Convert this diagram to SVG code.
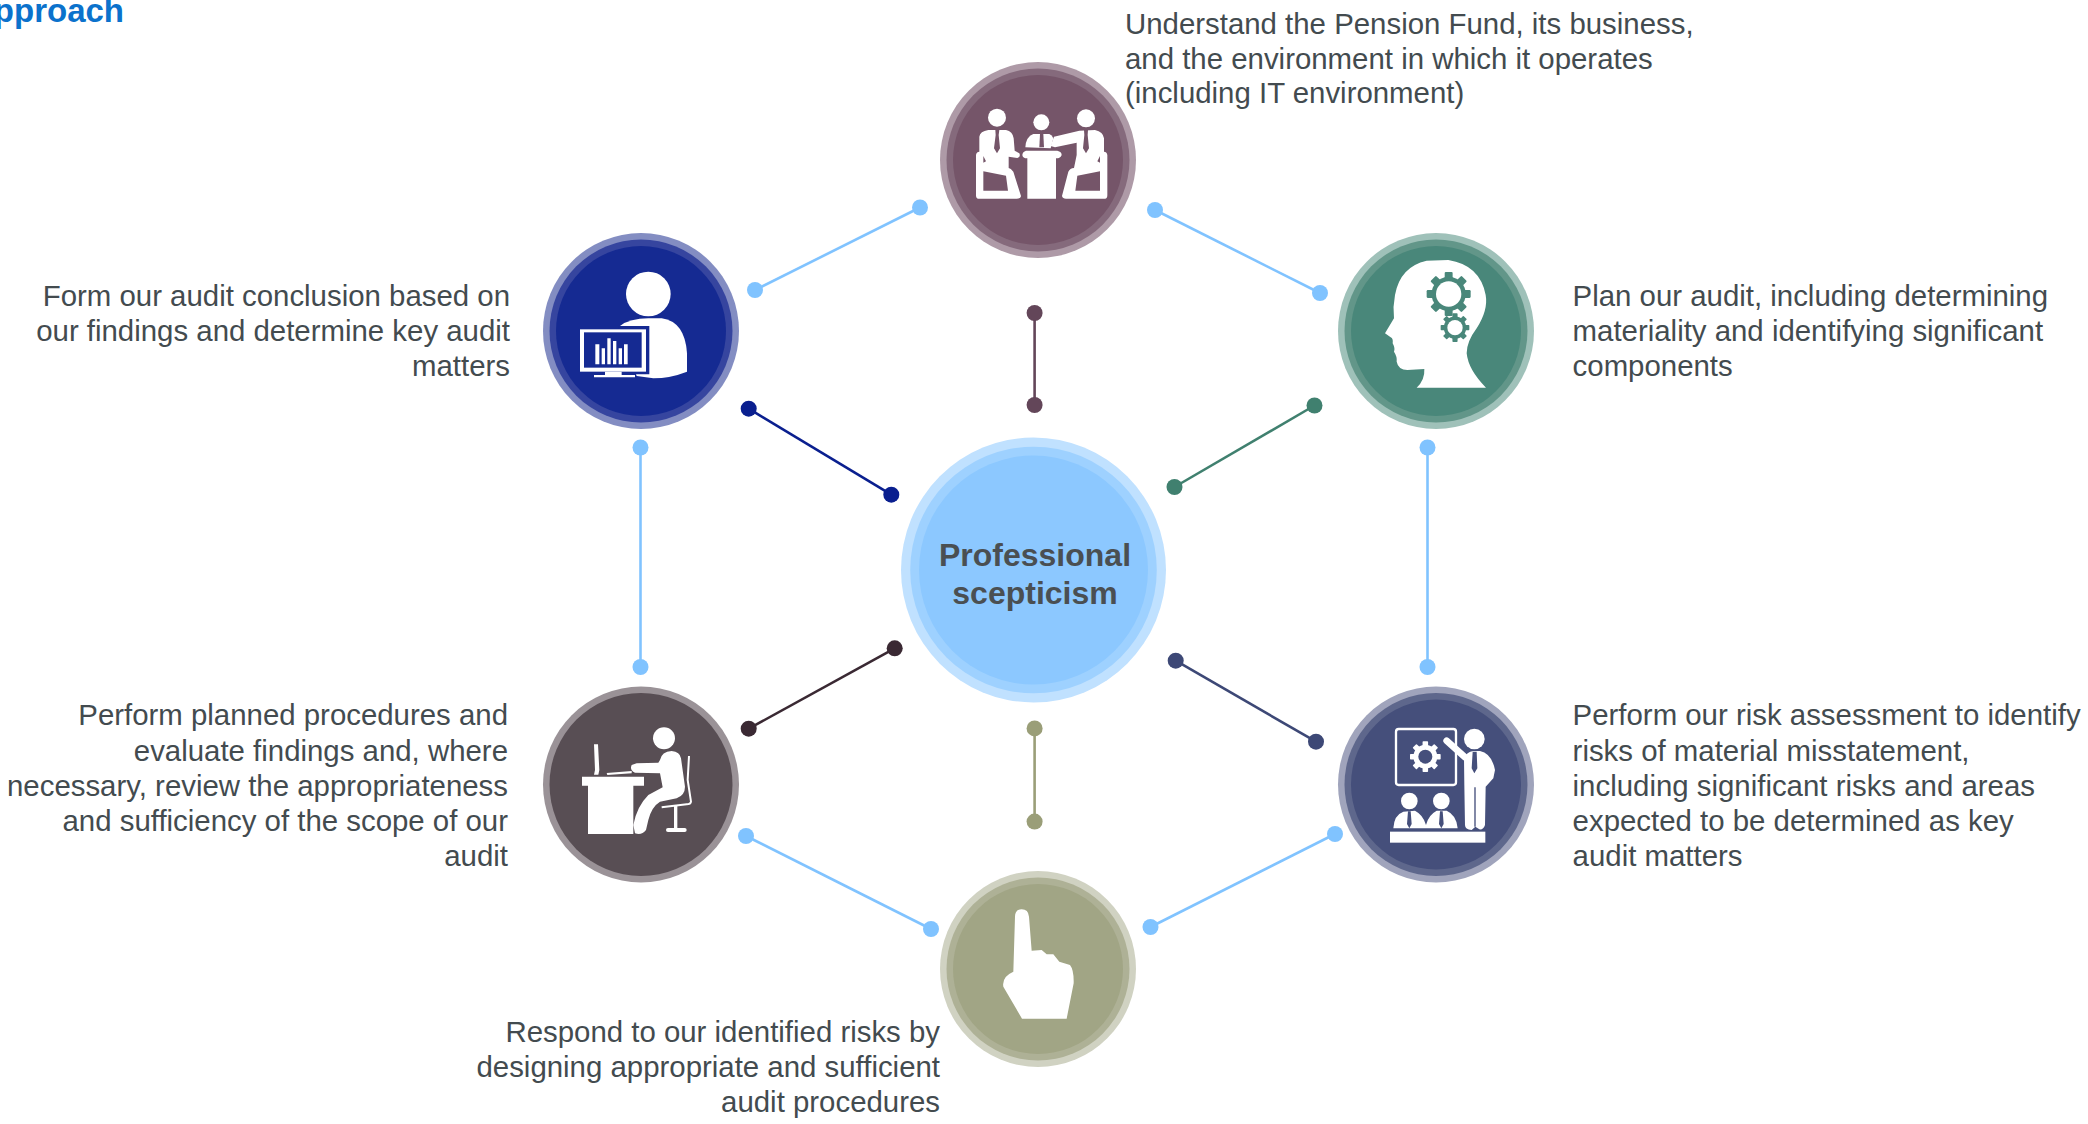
<svg xmlns="http://www.w3.org/2000/svg" xmlns:xlink="http://www.w3.org/1999/xlink" width="2088" height="1124" viewBox="0 0 2088 1124">
<style>
text{font-family:"Liberation Sans",Arial,sans-serif;}
.t{font-size:29.4px;fill:#434b4f;}
.e{text-anchor:end;}
.c{font-size:32px;font-weight:700;fill:#4a4f52;text-anchor:middle;}
.ttl{font-size:33px;font-weight:700;fill:#0b72cc;text-anchor:end;}
.l{stroke-width:2.6;fill:none;}
.w{fill:#fff;}
</style>
<defs>
<g id="gear"><circle r="78"/><rect id="tooth" x="-18" y="-100" width="36" height="32" rx="5"/><use xlink:href="#tooth" href="#tooth" transform="rotate(45)"/><use xlink:href="#tooth" href="#tooth" transform="rotate(90)"/><use xlink:href="#tooth" href="#tooth" transform="rotate(135)"/><use xlink:href="#tooth" href="#tooth" transform="rotate(180)"/><use xlink:href="#tooth" href="#tooth" transform="rotate(225)"/><use xlink:href="#tooth" href="#tooth" transform="rotate(270)"/><use xlink:href="#tooth" href="#tooth" transform="rotate(315)"/></g>
</defs>
<rect width="2088" height="1124" fill="#fff"/>
<text class="ttl" x="124" y="22">pproach</text>

<g id="connectors">
<g stroke="#80c3ff" fill="#80c3ff">
<line class="l" x1="920" y1="207.5" x2="755" y2="290"/><circle cx="920" cy="207.5" r="8" stroke="none"/><circle cx="755" cy="290" r="8" stroke="none"/>
<line class="l" x1="1155" y1="210" x2="1320" y2="293"/><circle cx="1155" cy="210" r="8" stroke="none"/><circle cx="1320" cy="293" r="8" stroke="none"/>
<line class="l" x1="1427.5" y1="447.5" x2="1427.5" y2="667"/><circle cx="1427.5" cy="447.5" r="8" stroke="none"/><circle cx="1427.5" cy="667" r="8" stroke="none"/>
<line class="l" x1="1335" y1="834" x2="1150.5" y2="927"/><circle cx="1335" cy="834" r="8" stroke="none"/><circle cx="1150.5" cy="927" r="8" stroke="none"/>
<line class="l" x1="931" y1="929" x2="746" y2="836"/><circle cx="931" cy="929" r="8" stroke="none"/><circle cx="746" cy="836" r="8" stroke="none"/>
<line class="l" x1="640.5" y1="667" x2="640.5" y2="447.5"/><circle cx="640.5" cy="667" r="8" stroke="none"/><circle cx="640.5" cy="447.5" r="8" stroke="none"/>
</g>
<g stroke="#634659" fill="#634659"><line class="l" x1="1034.6" y1="313" x2="1034.6" y2="405"/><circle cx="1034.6" cy="313" r="8" stroke="none"/><circle cx="1034.6" cy="405" r="8" stroke="none"/></g>
<g stroke="#40806f" fill="#40806f"><line class="l" x1="1314.5" y1="405.5" x2="1174.5" y2="487"/><circle cx="1314.5" cy="405.5" r="8" stroke="none"/><circle cx="1174.5" cy="487" r="8" stroke="none"/></g>
<g stroke="#3d4876" fill="#3d4876"><line class="l" x1="1175.7" y1="660.7" x2="1316" y2="741.7"/><circle cx="1175.7" cy="660.7" r="8" stroke="none"/><circle cx="1316" cy="741.7" r="8" stroke="none"/></g>
<g stroke="#9a9e78" fill="#9a9e78"><line class="l" x1="1034.6" y1="728.4" x2="1034.6" y2="821.6"/><circle cx="1034.6" cy="728.4" r="8" stroke="none"/><circle cx="1034.6" cy="821.6" r="8" stroke="none"/></g>
<g stroke="#3a2933" fill="#3a2933"><line class="l" x1="894.7" y1="648.3" x2="748.7" y2="728.7"/><circle cx="894.7" cy="648.3" r="8" stroke="none"/><circle cx="748.7" cy="728.7" r="8" stroke="none"/></g>
<g stroke="#0a1f8f" fill="#0a1f8f"><line class="l" x1="748.7" y1="408.7" x2="891.3" y2="494.7"/><circle cx="748.7" cy="408.7" r="8" stroke="none"/><circle cx="891.3" cy="494.7" r="8" stroke="none"/></g>
</g>

<g id="center">
<circle cx="1033.5" cy="570" r="132.5" fill="#c0e1ff"/><circle cx="1033.5" cy="570" r="123.3" fill="#9ed1ff"/><circle cx="1033.5" cy="570" r="114.5" fill="#8cc8ff"/>
<text class="c" x="1035" y="566">Professional</text><text class="c" x="1035" y="604">scepticism</text>
</g>

<g id="node-understand">
<circle cx="1038" cy="160" r="98" fill="#ae9aa7"/><circle cx="1038" cy="160" r="91.5" fill="#856a7c"/><circle cx="1038" cy="160" r="85" fill="#755569"/>
<g transform="translate(920 40) scale(.33333)">
<circle class="w" cx="231" cy="233" r="27"/>
<path class="w" d="M178 290Q180 274 205 270L258 270Q278 274 281 295L284 332L298 340Q303 350 292 354L266 350L266 384Q272 385 280 395L303 468Q302 476 290 476L175 476Q168 476 168 466L168 345Q170 335 178 335Z"/>
<path fill="#755569" d="M190 394L258 407L264 452L190 452ZM190 348L198 364L190 368Z"/>
<path fill="#755569" d="M226 270L238 270L236 285L240 325L231 340L222 325L227 285Z"/>
<circle class="w" cx="364" cy="247" r="24"/>
<path class="w" d="M316 322Q318 290 340 282L388 282Q396 285 400 295L392 325Z"/>
<path fill="#755569" d="M360 282L370 282L372 322L358 322Z"/>
<path class="w" d="M318 332L412 332Q425 335 425 345Q422 355 408 355L408 476L322 476L322 355Q308 355 307 345Q308 335 318 332Z"/>
<circle class="w" cx="498" cy="235" r="27"/>
<path class="w" d="M552 295Q550 276 525 270L478 272L402 290L392 318L405 322L470 308L470 345L462 384Q450 385 445 395L426 468Q428 476 438 476L555 476Q562 476 562 466L562 345Q560 335 552 335Z"/>
<path fill="#755569" d="M540 394L472 407L466 452L540 452ZM540 348L532 364L540 368Z"/>
<path fill="#755569" d="M492 270L504 270L503 285L507 325L498 340L489 325L493 285Z"/>
</g>
<text class="t" x="1125" y="34">Understand the Pension Fund, its business,</text>
<text class="t" x="1125" y="69">and the environment in which it operates</text>
<text class="t" x="1125" y="103">(including IT environment)</text>
</g>

<g id="node-plan">
<circle cx="1436" cy="331" r="98" fill="#9fc1b9"/><circle cx="1436" cy="331" r="91.5" fill="#629689"/><circle cx="1436" cy="331" r="85" fill="#49877a"/>
<g transform="translate(1320 220) scale(.33333)">
<path class="w" d="M195 340L222 295Q218 260 225 225Q240 140 320 122L385 120Q480 135 497 225Q505 270 470 325Q440 365 440 400Q445 450 498 503L290 503Q315 480 313 447L262 450Q235 450 230 425Q232 410 222 395Q226 385 218 370Q220 355 212 352Z"/>
<use xlink:href="#gear" href="#gear" fill="#49877a" transform="translate(386 222) scale(.66)"/><circle class="w" cx="386" cy="222" r="38"/>
<use xlink:href="#gear" href="#gear" fill="#49877a" transform="translate(405 323) scale(.43)"/><circle class="w" cx="405" cy="323" r="23"/>
</g>
<text class="t" x="1572.6" y="306">Plan our audit, including determining</text>
<text class="t" x="1572.6" y="341">materiality and identifying significant</text>
<text class="t" x="1572.6" y="376">components</text>
</g>

<g id="node-risk">
<circle cx="1436" cy="784.5" r="98" fill="#a0a4bc"/><circle cx="1436" cy="784.5" r="91.5" fill="#5e678c"/><circle cx="1436" cy="784.5" r="85" fill="#454f7b"/>
<g transform="translate(1320 670) scale(.33333)">
<rect x="228" y="177" width="180" height="168" rx="8" fill="none" stroke="#fff" stroke-width="7"/>
<use xlink:href="#gear" href="#gear" class="w" transform="translate(316 260) scale(.46)"/><circle cx="316" cy="260" r="21" fill="#454f7b"/>
<circle class="w" cx="463" cy="207" r="31"/>
<path d="M380 212L435 262" stroke="#fff" stroke-width="20" stroke-linecap="round" fill="none"/>
<path class="w" d="M432 265Q440 245 460 243L480 243Q515 250 525 300L520 325L497 350L495 465Q490 480 478 478L466 470L455 480Q435 478 435 465L433 345Z"/>
<path fill="#454f7b" d="M458 245L470 245L472 295L463 310L455 295ZM463 352H467V470H463Z"/>
<circle class="w" cx="268" cy="393" r="25"/><circle class="w" cx="364" cy="393" r="25"/>
<path class="w" d="M220 475Q222 435 250 425L285 422Q310 435 318 465Q325 435 350 422L380 422Q410 435 413 475Z"/>
<path fill="#454f7b" d="M264 424H272L275 462L268 475L261 462ZM360 424H368L371 462L364 475L357 462Z"/>
<rect class="w" x="210" y="485" width="286" height="33"/>
</g>
<text class="t" x="1572.6" y="725">Perform our risk assessment to identify</text>
<text class="t" x="1572.6" y="760.5">risks of material misstatement,</text>
<text class="t" x="1572.6" y="795.7">including significant risks and areas</text>
<text class="t" x="1572.6" y="831">expected to be determined as key</text>
<text class="t" x="1572.6" y="866">audit matters</text>
</g>

<g id="node-respond">
<circle cx="1038" cy="969" r="98" fill="#d0d2c2"/><circle cx="1038" cy="969" r="91.5" fill="#aeb196"/><circle cx="1038" cy="969" r="85" fill="#a1a585"/>
<g transform="translate(920 860) scale(.33333)">
<path class="w" d="M285 170Q285 148 305 148Q325 148 327 170L335 272L365 270L380 283L400 283L418 305L450 315Q462 330 461 370L440 476L306 476L250 380Q245 350 280 335Z"/>
</g>
<text class="t e" x="940" y="1042">Respond to our identified risks by</text>
<text class="t e" x="940" y="1077">designing appropriate and sufficient</text>
<text class="t e" x="940" y="1112">audit procedures</text>
</g>

<g id="node-perform">
<circle cx="641" cy="784.5" r="98" fill="#9a9297"/><circle cx="641" cy="784.5" r="91.5" fill="#584e54"/>
<g transform="translate(520 670) scale(.33333)">
<circle class="w" cx="432" cy="205" r="33"/>
<path class="w" d="M186 320H372V347H340V492H204V347H186Z"/>
<path class="w" d="M222 223L234 223L238 300L235 314L222 314L225 300Z"/>
<path class="w" d="M260 309L335 303L335 310L262 315Z"/>
<path class="w" d="M420 270Q425 245 455 243Q480 245 483 265L495 350Q495 375 470 385L420 395Q395 410 385 450L378 480Q365 497 345 490L340 465Q350 410 385 375L428 352L420 310L345 308Q328 300 335 285L350 280L415 278Z"/>
<path d="M507 258L503 330L513 395Q512 403 500 403L425 412" fill="none" stroke="#fff" stroke-width="6"/>
<rect class="w" x="462" y="405" width="10" height="70"/>
<rect class="w" x="438" y="474" width="62" height="12" rx="6"/>
</g>
<text class="t e" x="508" y="725">Perform planned procedures and</text>
<text class="t e" x="508" y="760.5">evaluate findings and, where</text>
<text class="t e" x="508" y="795.7">necessary, review the appropriateness</text>
<text class="t e" x="508" y="831">and sufficiency of the scope of our</text>
<text class="t e" x="508" y="866">audit</text>
</g>

<g id="node-conclude">
<circle cx="641" cy="331" r="98" fill="#838dc2"/><circle cx="641" cy="331" r="91.5" fill="#36459f"/><circle cx="641" cy="331" r="85" fill="#152a92"/>
<g transform="translate(520 220) scale(.33333)">
<circle class="w" cx="385" cy="222" r="67"/>
<path class="w" d="M300 318Q330 295 385 295L425 295Q495 305 501 400L501 455Q450 475 400 475L350 468Z"/>
<path fill="#152a92" d="M296 318H388V463H345V470H296Z"/>
<rect class="w" x="180" y="328" width="198" height="127"/>
<rect x="192" y="337" width="173" height="106" fill="#152a92"/>
<path class="w" d="M226 373h12v60h-12zM245 385h10v48h-10zM262 355h10v78h-10zM279 363h10v70h-10zM296 385h10v48h-10zM312 373h11v60h-11z"/>
<path class="w" d="M255 455H305V465H345V472H222V465H255Z"/>
</g>
<text class="t e" x="510" y="306">Form our audit conclusion based on</text>
<text class="t e" x="510" y="341">our findings and determine key audit</text>
<text class="t e" x="510" y="376">matters</text>
</g>
</svg>
